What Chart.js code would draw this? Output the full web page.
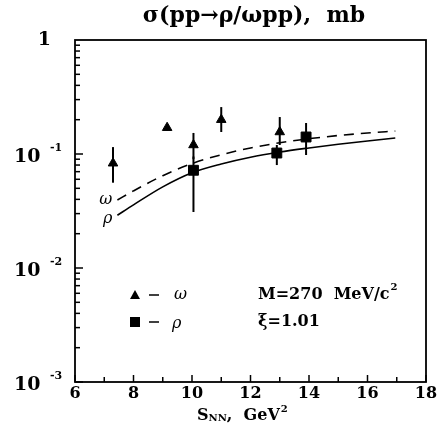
<!DOCTYPE html>
<html>
<head>
<meta charset="utf-8">
<script src="https://cdn.jsdelivr.net/npm/chart.js@4.4.1/dist/chart.umd.min.js"></script>
<style>
    html, body { margin: 0; padding: 0; background: #fff; }
    #wrap { width: 444px; height: 439px; }
</style>
</head>
<body>
<div id="wrap"><canvas id="ProgressChart" width="444" height="439"></canvas></div>
<script>
// omega points (triangles) with error bars
const omegaX = [7.3, 9.15, 10.05, 11.0, 13.0];
const omegaY = [0.083, 0.17, 0.12, 0.20, 0.156];
const omegaLow = [0.056, 0.16, 0.09, 0.156, 0.12];
const omegaHigh = [0.115, 0.18, 0.153, 0.258, 0.211];

// rho points (squares) with error bars
const rhoX = [10.05, 12.9, 13.9];
const rhoY = [0.072, 0.102, 0.141];
const rhoLow = [0.031, 0.080, 0.098];
const rhoHigh = [0.095, 0.120, 0.187];

// model curves
const curveX = [7.45, 8, 9, 10, 11, 12, 13, 14, 15, 16, 16.95];
const omegaCurve = [0.0395, 0.0475, 0.0645, 0.0825, 0.0985, 0.113, 0.1255, 0.1362, 0.1452, 0.1528, 0.159];
const rhoCurve = [0.029, 0.0358, 0.0515, 0.0685, 0.0818, 0.0938, 0.1040, 0.1130, 0.1218, 0.1302, 0.138];

const xTickLabels = [6, 8, 10, 12, 14, 16, 18];
const yTickLabels = [1, 0.1, 0.01, 0.001];

const FONT = "'DejaVu Serif', 'Liberation Serif', serif";

function pts(xs, ys) {
    return xs.map((x, i) => ({ x: x, y: ys[i] }));
}

const frame = {
    id: 'frame',
    beforeDatasetsDraw(chart) {
        const ctx = chart.ctx;
        const xs = chart.scales.x, ys = chart.scales.y;
        ctx.save();
        ctx.strokeStyle = '#000';
        ctx.lineWidth = 2;
        const bars = [[omegaX, omegaLow, omegaHigh], [rhoX, rhoLow, rhoHigh]];
        bars.forEach(([bx, lo, hi]) => {
            bx.forEach((x, i) => {
                const px = xs.getPixelForValue(x);
                ctx.beginPath();
                ctx.moveTo(px, ys.getPixelForValue(lo[i]));
                ctx.lineTo(px, ys.getPixelForValue(hi[i]));
                ctx.stroke();
            });
        });
        ctx.restore();
    },
    afterDraw(chart) {
        const ctx = chart.ctx;
        const a = chart.chartArea;
        const xs = chart.scales.x, ys = chart.scales.y;
        ctx.save();
        ctx.strokeStyle = '#000';
        ctx.fillStyle = '#000';
        ctx.lineWidth = 1.8;
        ctx.strokeRect(a.left, a.top, a.right - a.left, a.bottom - a.top);

        // inward ticks
        ctx.lineWidth = 1.5;
        for (let v = 6; v <= 18; v++) {
            const px = xs.getPixelForValue(v);
            const len = v % 2 === 0 ? 7 : 5;
            ctx.beginPath();
            ctx.moveTo(px, a.bottom);
            ctx.lineTo(px, a.bottom - len);
            ctx.stroke();
        }
        for (let d = -3; d < 0; d++) {
            for (let m = 1; m <= 9; m++) {
                const v = m * Math.pow(10, d);
                const py = ys.getPixelForValue(v);
                const len = m === 1 ? 8 : 5;
                ctx.beginPath();
                ctx.moveTo(a.left, py);
                ctx.lineTo(a.left + len, py);
                ctx.stroke();
            }
        }

        // x tick labels
        ctx.font = 'bold 16px ' + FONT;
        ctx.textAlign = 'center';
        ctx.textBaseline = 'middle';
        xTickLabels.forEach(v => {
            ctx.fillText(String(v), xs.getPixelForValue(v), a.bottom + 12);
        });

        // y tick labels
        yTickLabels.forEach(v => {
            const py = ys.getPixelForValue(v);
            const exp = Math.round(Math.log10(v));
            ctx.textBaseline = 'middle';
            if (exp === 0) {
                ctx.font = 'bold 19px ' + FONT;
                ctx.textAlign = 'right';
                ctx.fillText('1', a.left - 24, py);
            } else {
                ctx.font = 'bold 19px ' + FONT;
                ctx.textAlign = 'left';
                ctx.fillText('10', a.left - 61, py + 3);
                ctx.font = 'bold 11px ' + FONT;
                ctx.fillText('-' + Math.abs(exp), a.left - 25, py - 6);
            }
        });

        // title
        ctx.font = 'bold 22px ' + FONT;
        ctx.textAlign = 'center';
        ctx.textBaseline = 'middle';
        ctx.fillText('σ(pp→ρ/ωpp),  mb', 254, 16);

        // x axis title: S_NN, GeV^2
        ctx.textAlign = 'left';
        ctx.textBaseline = 'alphabetic';
        let tx = 197;
        const ty = a.bottom + 38;
        ctx.font = 'bold 16px ' + FONT;
        ctx.fillText('S', tx, ty);
        tx += ctx.measureText('S').width;
        ctx.font = 'bold 10px ' + FONT;
        ctx.fillText('NN', tx, ty + 1);
        tx += ctx.measureText('NN').width;
        ctx.font = 'bold 16px ' + FONT;
        ctx.fillText(',  GeV', tx, ty);
        tx += ctx.measureText(',  GeV').width;
        ctx.font = 'bold 10px ' + FONT;
        ctx.fillText('2', tx + 1, ty - 8);

        // curve labels
        ctx.font = 'italic 16px ' + FONT;
        ctx.textAlign = 'right';
        ctx.textBaseline = 'middle';
        const cx = xs.getPixelForValue(curveX[0]) - 5;
        ctx.fillText('ω', cx, ys.getPixelForValue(omegaCurve[0]));
        ctx.fillText('ρ', cx, ys.getPixelForValue(rhoCurve[0]) + 4);

        // in-plot legend
        const lx = a.left + 60, l1 = 295, l2 = 322;
        ctx.beginPath();
        ctx.moveTo(lx, l1 - 5);
        ctx.lineTo(lx + 5, l1 + 4);
        ctx.lineTo(lx - 5, l1 + 4);
        ctx.closePath();
        ctx.fill();
        ctx.fillRect(lx - 5, l2 - 5, 10, 10);
        ctx.lineWidth = 1.5;
        [l1, l2].forEach(ly => {
            ctx.beginPath();
            ctx.moveTo(lx + 14, ly);
            ctx.lineTo(lx + 24, ly);
            ctx.stroke();
        });
        ctx.textAlign = 'left';
        ctx.font = 'italic 16px ' + FONT;
        ctx.fillText('ω', lx + 39, l1);
        ctx.fillText('ρ', lx + 37, l2 + 2);
        ctx.font = 'bold 16px ' + FONT;
        ctx.fillText('M=270  MeV/c', 258, l1);
        const mw = ctx.measureText('M=270  MeV/c').width;
        ctx.font = 'bold 10px ' + FONT;
        ctx.fillText('2', 258 + mw + 1, l1 - 8);
        ctx.font = 'bold 16px ' + FONT;
        ctx.fillText('ξ=1.01', 258, l2);
        ctx.restore();
    }
};

const ctx = document.getElementById('ProgressChart').getContext('2d');

const chart = new Chart(ctx, {
    type: 'scatter',
    data: {
        datasets: [
            {
                label: 'omega model',
                data: pts(curveX, omegaCurve),
                showLine: true,
                borderColor: '#000',
                borderWidth: 1.6,
                borderDash: [10, 7],
                pointRadius: 0,
                cubicInterpolationMode: 'monotone'
            },
            {
                label: 'rho model',
                data: pts(curveX, rhoCurve),
                showLine: true,
                borderColor: '#000',
                borderWidth: 1.6,
                pointRadius: 0,
                cubicInterpolationMode: 'monotone'
            },
            {
                label: 'omega',
                data: pts(omegaX, omegaY),
                pointStyle: 'triangle',
                pointRadius: 5.5,
                backgroundColor: '#000',
                borderColor: '#000',
                borderWidth: 1
            },
            {
                label: 'rho',
                data: pts(rhoX, rhoY),
                pointStyle: 'rect',
                pointRadius: 7,
                backgroundColor: '#000',
                borderColor: '#000',
                borderWidth: 1
            }
        ]
    },
    options: {
        responsive: false,
        animation: false,
        layout: {
            padding: { left: 75, top: 40, right: 18, bottom: 57 }
        },
        plugins: {
            legend: { display: false },
            tooltip: { enabled: false },
            title: { display: false }
        },
        scales: {
            x: {
                type: 'linear',
                display: false,
                min: 6,
                max: 18
            },
            y: {
                type: 'logarithmic',
                display: false,
                min: 0.001,
                max: 1
            }
        }
    },
    plugins: [frame]
});
</script>
</body>
</html>
